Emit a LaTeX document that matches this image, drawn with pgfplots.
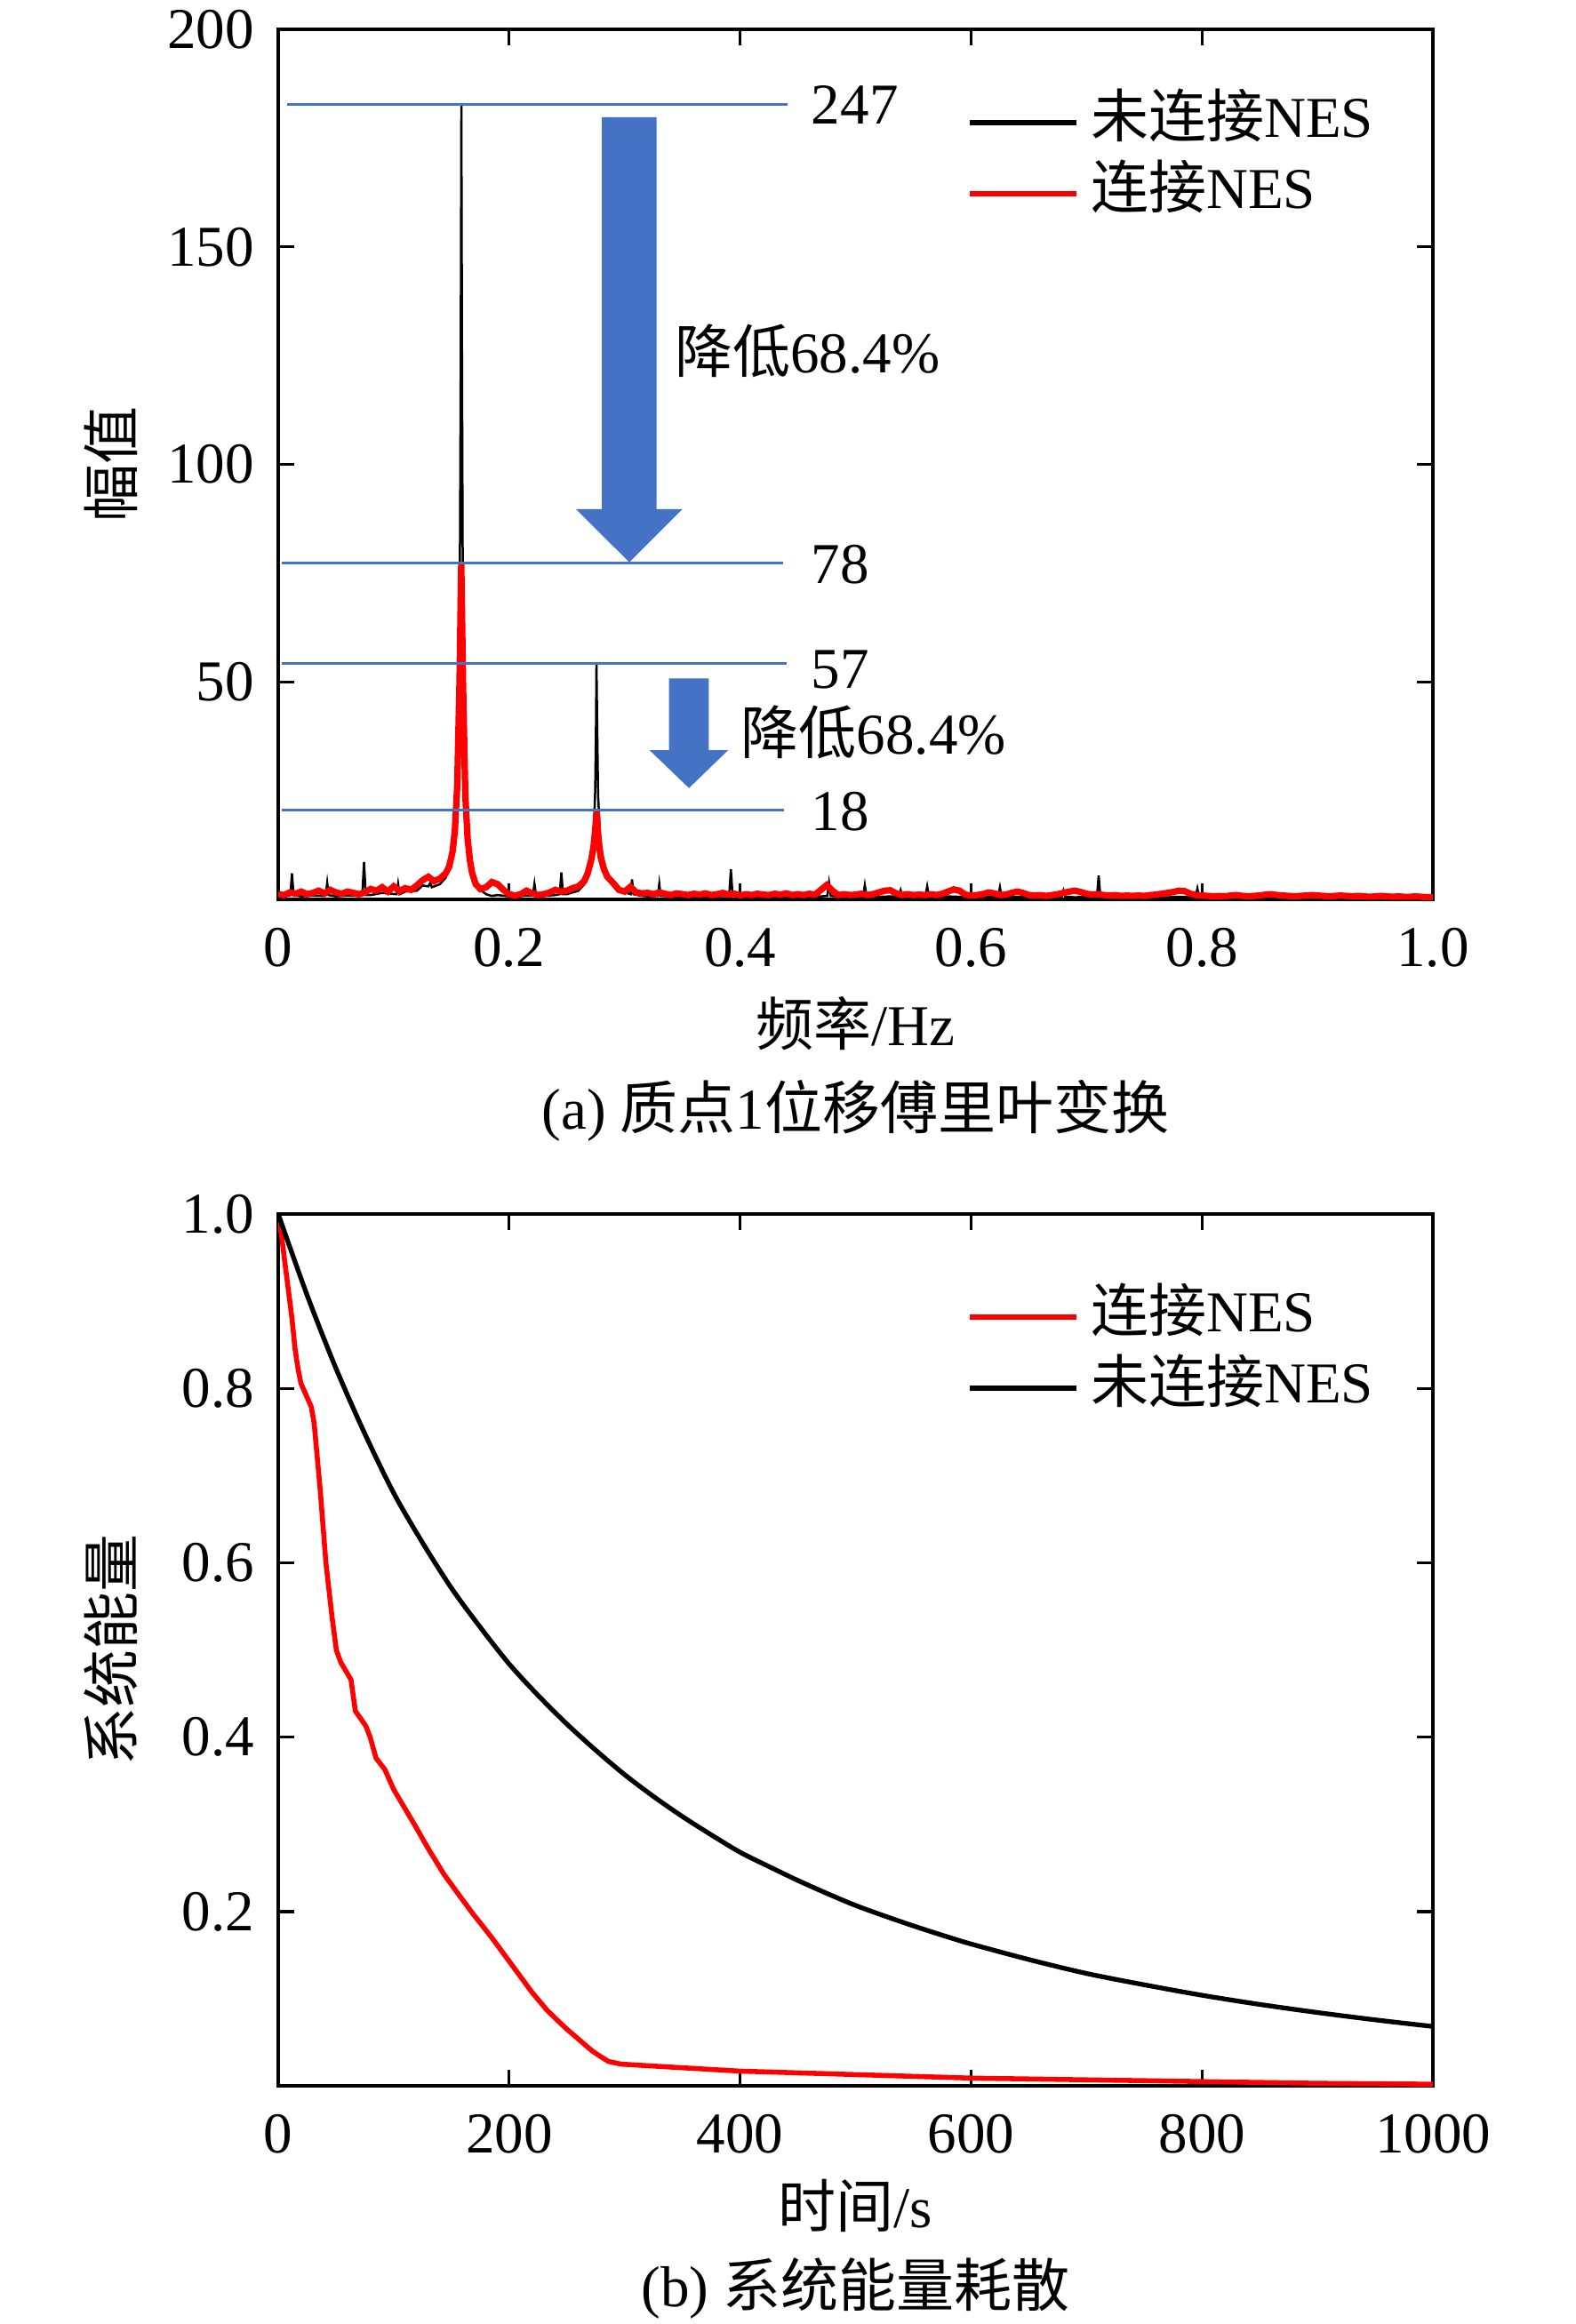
\documentclass[border=0pt]{standalone}
\usepackage{fontspec}
\setmainfont{Liberation Serif}
\newfontfamily\cjk{Noto Sans CJK SC}
\usepackage{pgfplots}
\pgfplotsset{compat=1.18}
\definecolor{ablue}{RGB}{68,114,196}
\newcommand\fs{\fontsize{11.7}{14}\selectfont}
\def\uu{0.18pt}
\pgfplotsset{
  common/.style={
    scale only axis,
    width=233.82pt,
    /pgf/number format/assume math mode=true,
    axis line style={line width=0.72pt},
    every tick/.style={black, line width=0.6pt},
    major tick length=3.3pt,
    tick align=inside,
    tick label style={font=\fs},
    label style={font=\fs},
    yticklabel style={inner sep=0pt, anchor=east, xshift=-4.7pt},
    xticklabel style={inner sep=0pt, anchor=north, yshift=-5.67pt},
    ylabel style={at={(axis description cs:-0.1447,0.5)}, anchor=center, rotate=0},
    legend cell align=left,
    legend image code/.code={\draw[##1, line width=0.95pt] (0pt,0pt) -- (21.6pt,0pt);},
  }
}
\begin{document}
\begin{tikzpicture}[font=\fs]
\useasboundingbox (0,0) rectangle ({1772*\uu},{-2615*\uu});

% ---------------- (a) ----------------
\begin{axis}[common,
  at={(56.34pt,-182.16pt)}, anchor=south west,
  height=176.22pt,
  xmin=0, xmax=1, ymin=0, ymax=200,
  xtick={0,0.2,0.4,0.6,0.8,1.0},
  xticklabels={0,0.2,0.4,0.6,0.8,1.0},
  ytick={50,100,150,200},
  yticklabels={50,100,150,200},
  xlabel={{\cjk 频率}/Hz},
  ylabel={{\cjk 幅值}},
  xlabel style={at={(axis description cs:0.5,-0.143)}, anchor=center},
  legend style={draw=none, fill=none, font=\fs,
    at={(axis description cs:0.5966,0.9254)}, anchor=north west,
    inner sep=0pt, outer sep=0pt, row sep=2.9pt, column sep=2.5pt,
    nodes={inner sep=0pt, text height=8.8pt, text depth=2.7pt}},
]
\addplot[black, line width=0.45pt] coordinates {
(0,0.8)(0.008,0.8)(0.0105,1.0)(0.0119,6.0)(0.0133,1.0)(0.02,0.7)(0.03,0.9)(0.04,0.8)
(0.0412,1.0)(0.0424,3.8)(0.0436,1.0)(0.05,0.7)(0.06,0.9)(0.07,0.8)(0.0728,1.0)(0.0743,8.6)
(0.0758,1.0)(0.08,1.0)(0.09,1.5)(0.1025,1.2)(0.1038,3.6)(0.1051,1.2)(0.11,1.8)(0.12,2.0)
(0.125,3.2)(0.13,3.0)(0.1316,3.8)(0.133,2.8)(0.14,3.5)(0.145,5.0)(0.150,8.5)(0.153,14)
(0.155,25)(0.157,55)(0.158,120)(0.1586,182.7)(0.1592,120)(0.160,60)(0.162,26)(0.164,15)
(0.167,8.5)(0.170,4.8)(0.175,2.2)(0.180,1.2)(0.185,0.8)(0.19,1.0)(0.20,0.7)(0.21,0.8)
(0.2205,0.9)(0.2219,3.6)(0.2233,0.9)(0.23,0.8)(0.24,1.0)(0.2438,1.2)(0.2452,6.2)(0.2466,1.2)
(0.25,1.2)(0.26,2.0)(0.265,3.5)(0.268,5.0)(0.271,8)(0.273,13)(0.2745,25)(0.2752,40)
(0.2756,54.2)(0.2762,40)(0.277,24)(0.279,13)(0.282,8.5)(0.285,6.0)(0.289,4.5)(0.293,3.0)
(0.298,1.8)(0.3052,1.2)(0.3064,4.6)(0.3076,1.2)(0.315,0.8)(0.32,0.7)(0.3288,0.8)(0.330,3.6)
(0.3312,0.8)(0.34,0.7)(0.35,0.6)(0.36,0.7)(0.37,0.6)(0.38,0.7)(0.3905,0.8)(0.392,6.9)
(0.3935,0.8)(0.40,0.7)(0.41,0.6)(0.42,0.7)(0.43,0.6)(0.44,0.7)(0.45,0.6)(0.46,0.7)
(0.47,0.7)(0.4755,0.8)(0.477,3.8)(0.4785,0.8)(0.49,0.6)(0.50,0.7)(0.5065,0.7)(0.508,3.3)
(0.5095,0.7)(0.52,0.6)(0.53,0.7)(0.5375,0.7)(0.539,2.1)(0.5405,0.7)(0.55,0.6)(0.5605,0.7)
(0.562,3.0)(0.5635,0.7)(0.57,0.6)(0.58,0.7)(0.59,0.6)(0.60,0.6)(0.61,0.7)(0.6235,0.6)
(0.625,2.8)(0.6265,0.6)(0.64,0.6)(0.65,0.5)(0.66,0.6)(0.67,0.5)(0.6785,0.6)(0.68,2.0)
(0.6815,0.6)(0.69,0.5)(0.70,0.6)(0.709,0.6)(0.7105,5.5)(0.712,0.6)(0.72,0.5)(0.73,0.6)
(0.74,0.5)(0.75,0.5)(0.76,0.6)(0.77,0.5)(0.78,0.6)(0.79,0.5)(0.7945,0.6)(0.796,2.5)
(0.7975,0.6)(0.81,0.5)(0.82,0.5)(0.83,0.4)(0.84,0.5)(0.85,0.4)(0.86,0.5)(0.87,0.4)
(0.88,0.5)(0.89,0.4)(0.90,0.4)(0.91,0.5)(0.92,0.4)(0.93,0.4)(0.94,0.4)(0.95,0.5)
(0.96,0.4)(0.97,0.4)(0.98,0.4)(0.99,0.4)(1.0,0.4)
};
\addlegendentry{{\cjk 未连接}NES}
\addplot[red, line width=1.3pt] coordinates {
(0.000,1.2)(0.005,1.0)(0.010,1.6)(0.015,1.3)(0.020,1.8)(0.025,1.2)(0.030,1.5)(0.035,2.0)
(0.040,1.4)(0.045,2.2)(0.050,1.6)(0.055,1.3)(0.060,1.8)(0.065,1.5)(0.070,1.2)(0.075,1.6)
(0.080,2.4)(0.085,2.0)(0.090,2.8)(0.095,1.8)(0.100,3.0)(0.105,1.9)(0.110,2.6)(0.115,2.2)
(0.120,3.2)(0.125,4.4)(0.130,5.2)(0.135,4.2)(0.140,4.8)(0.145,6.0)(0.148,7.5)(0.151,11)
(0.153,16)(0.155,26)(0.157,50)(0.1585,77.3)(0.160,50)(0.162,24)(0.164,14)(0.166,9)
(0.168,6)(0.171,3.5)(0.175,2.4)(0.180,2.8)(0.185,4.0)(0.190,3.5)(0.195,2.2)(0.200,1.2)
(0.205,0.9)(0.210,1.2)(0.215,2.0)(0.220,1.4)(0.225,1.0)(0.230,1.2)(0.235,1.6)(0.240,2.2)
(0.245,1.8)(0.250,2.0)(0.255,2.6)(0.260,3.0)(0.265,4.2)(0.268,6)(0.271,9)(0.273,12)
(0.2745,16)(0.2757,20.2)(0.277,15)(0.279,10)(0.282,7)(0.285,5.2)(0.290,3.8)(0.295,2.2)
(0.300,1.8)(0.305,2.9)(0.310,1.6)(0.315,1.4)(0.320,1.5)(0.325,1.2)(0.330,1.6)(0.335,1.3)
(0.34,1.0)(0.345,1.4)(0.35,1.2)(0.355,1.0)(0.36,1.3)(0.365,1.1)(0.37,1.4)(0.375,1.0)
(0.38,1.2)(0.385,1.5)(0.39,1.1)(0.395,1.3)(0.40,0.9)(0.405,1.2)(0.41,1.0)(0.415,1.3)
(0.42,1.1)(0.425,1.0)(0.43,1.3)(0.435,1.1)(0.44,1.4)(0.445,1.0)(0.45,1.2)(0.455,1.0)
(0.46,1.3)(0.465,1.1)(0.47,2.2)(0.475,3.3)(0.48,2.0)(0.485,1.0)(0.49,1.2)(0.495,1.0)
(0.50,1.1)(0.505,1.3)(0.51,1.0)(0.515,1.2)(0.52,1.6)(0.525,2.0)(0.53,2.1)(0.535,1.4)
(0.54,1.0)(0.545,1.2)(0.55,1.0)(0.555,1.1)(0.56,1.0)(0.565,1.2)(0.57,1.0)(0.575,1.3)
(0.58,1.8)(0.585,2.3)(0.59,2.0)(0.595,1.1)(0.60,0.9)(0.605,1.0)(0.61,1.2)(0.615,1.6)
(0.62,1.4)(0.625,1.0)(0.63,1.1)(0.635,1.5)(0.64,1.8)(0.645,1.5)(0.65,1.0)(0.655,0.9)
(0.66,1.0)(0.665,0.8)(0.67,1.0)(0.675,1.2)(0.68,1.5)(0.685,1.8)(0.69,2.0)(0.695,1.7)
(0.70,1.3)(0.705,1.1)(0.71,1.2)(0.715,1.0)(0.72,0.9)(0.725,1.0)(0.73,0.8)(0.735,0.9)
(0.74,0.8)(0.745,0.9)(0.75,0.8)(0.755,1.0)(0.76,1.1)(0.765,1.3)(0.77,1.5)(0.775,1.7)
(0.78,2.0)(0.785,1.9)(0.79,1.3)(0.795,1.0)(0.80,0.9)(0.805,0.8)(0.81,0.7)(0.815,0.8)
(0.82,0.7)(0.825,0.9)(0.83,1.0)(0.835,0.8)(0.84,0.7)(0.845,0.8)(0.85,0.9)(0.855,1.1)
(0.86,1.2)(0.865,1.0)(0.87,0.9)(0.875,0.8)(0.88,0.7)(0.885,0.8)(0.89,0.9)(0.895,1.0)
(0.90,0.9)(0.905,0.8)(0.91,0.7)(0.915,0.8)(0.92,0.9)(0.925,0.8)(0.93,0.7)(0.935,0.8)
(0.94,0.7)(0.945,0.6)(0.95,0.7)(0.955,0.8)(0.96,0.7)(0.965,0.6)(0.97,0.7)(0.975,0.6)
(0.98,0.6)(0.985,0.7)(0.99,0.6)(0.995,0.5)(1.0,0.5)
};
\addlegendentry{{\cjk 连接}NES}
% annotation lines
\addplot[ablue, line width=0.6pt, forget plot] coordinates {(0.008,182.7)(0.441,182.7)};
\addplot[ablue, line width=0.6pt, forget plot] coordinates {(0.003,77.3)(0.437,77.3)};
\addplot[ablue, line width=0.6pt, forget plot] coordinates {(0.003,54.3)(0.440,54.3)};
\addplot[ablue, line width=0.6pt, forget plot] coordinates {(0.003,20.6)(0.438,20.6)};
% arrows
\addplot[fill=ablue, draw=none, forget plot] coordinates {
(0.2803,179.8)(0.3277,179.8)(0.3277,89.7)(0.350,89.7)(0.304,77.5)(0.258,89.7)(0.2803,89.7)} -- cycle;
\addplot[fill=ablue, draw=none, forget plot] coordinates {
(0.3385,50.8)(0.3728,50.8)(0.3728,34.3)(0.3896,34.3)(0.3557,25.6)(0.3216,34.3)(0.3385,34.3)} -- cycle;
\node[anchor=west, inner sep=0pt] at (axis cs:0.461,182.7) {247};
\node[anchor=west, inner sep=0pt] at (axis cs:0.461,76.9) {78};
\node[anchor=west, inner sep=0pt] at (axis cs:0.461,52.9) {57};
\node[anchor=west, inner sep=0pt] at (axis cs:0.461,20.2) {18};
\node[anchor=west, inner sep=0pt] at (axis cs:0.3427,126) {{\cjk 降低}68.4\%};
\node[anchor=west, inner sep=0pt] at (axis cs:0.400,38.4) {{\cjk 降低}68.4\%};
\end{axis}

% ---------------- (b) ----------------
\begin{axis}[common,
  at={(56.34pt,-422.46pt)}, anchor=south west,
  height=176.58pt,
  xmin=0, xmax=1000, ymin=0, ymax=1,
  xtick={0,200,400,600,800,1000},
  xticklabels={0,200,400,600,800,1000},
  ytick={0.2,0.4,0.6,0.8,1.0},
  yticklabels={0.2,0.4,0.6,0.8,1.0},
  xlabel={{\cjk 时间}/s},
  ylabel={{\cjk 系统能量}},
  xlabel style={at={(axis description cs:0.5,-0.1376)}, anchor=center},
  legend style={draw=none, fill=none, font=\fs,
    at={(axis description cs:0.5966,0.9144)}, anchor=north west,
    inner sep=0pt, outer sep=0pt, row sep=2.9pt, column sep=2.5pt,
    nodes={inner sep=0pt, text height=8.8pt, text depth=2.7pt}},
]
\addplot[red, line width=1.0pt] coordinates {
(0,1.0)(3.1,0.973)(5.6,0.946)(8.2,0.919)(12.0,0.879)(14.5,0.846)(17.1,0.823)(19.6,0.806)
(28.6,0.779)(31.1,0.760)(36.2,0.686)(41.3,0.600)(46.4,0.540)(50.3,0.500)(54.1,0.486)
(63.0,0.466)(66.8,0.430)(75.8,0.413)(79.6,0.400)(84.7,0.376)(92.3,0.363)(100,0.340)
(117.9,0.300)(130,0.272)(143.4,0.243)(156,0.220)(168.9,0.197)(185,0.170)(200,0.143)
(210,0.125)(220,0.107)(232.7,0.087)(242,0.075)(250,0.065)(258,0.056)(265.8,0.047)
(272,0.040)(280,0.033)(286.2,0.028)
(297,0.025)(335,0.022)(400,0.017)(500,0.013)(600,0.009)(700,0.007)(800,0.005)(900,0.003)(1000,0.002)
};
\addlegendentry{{\cjk 连接}NES}
\addplot[black, line width=0.95pt, smooth] coordinates {
(0,1.000)(25,0.907)(50,0.823)(75,0.748)(100,0.680)(125,0.623)(150,0.571)(175,0.526)
(200,0.484)(225,0.448)(250,0.415)(275,0.385)(300,0.357)(325,0.332)(350,0.309)(375,0.288)
(400,0.268)(425,0.2516)(450,0.2357)(475,0.2209)(500,0.207)(525,0.195)(550,0.1836)(575,0.1729)
(600,0.1628)(650,0.145)(700,0.129)(750,0.116)
(800,0.104)(850,0.0935)(900,0.0842)(950,0.0758)(1000,0.0682)
};
\addlegendentry{{\cjk 未连接}NES}
\end{axis}

\node at ({962.5*\uu},{-1250*\uu}) {(a) {\cjk 质点}1{\cjk 位移傅里叶变换}};
\node at ({962.5*\uu},{-2575*\uu}) {(b) {\cjk 系统能量耗散}};
\end{tikzpicture}
\end{document}
